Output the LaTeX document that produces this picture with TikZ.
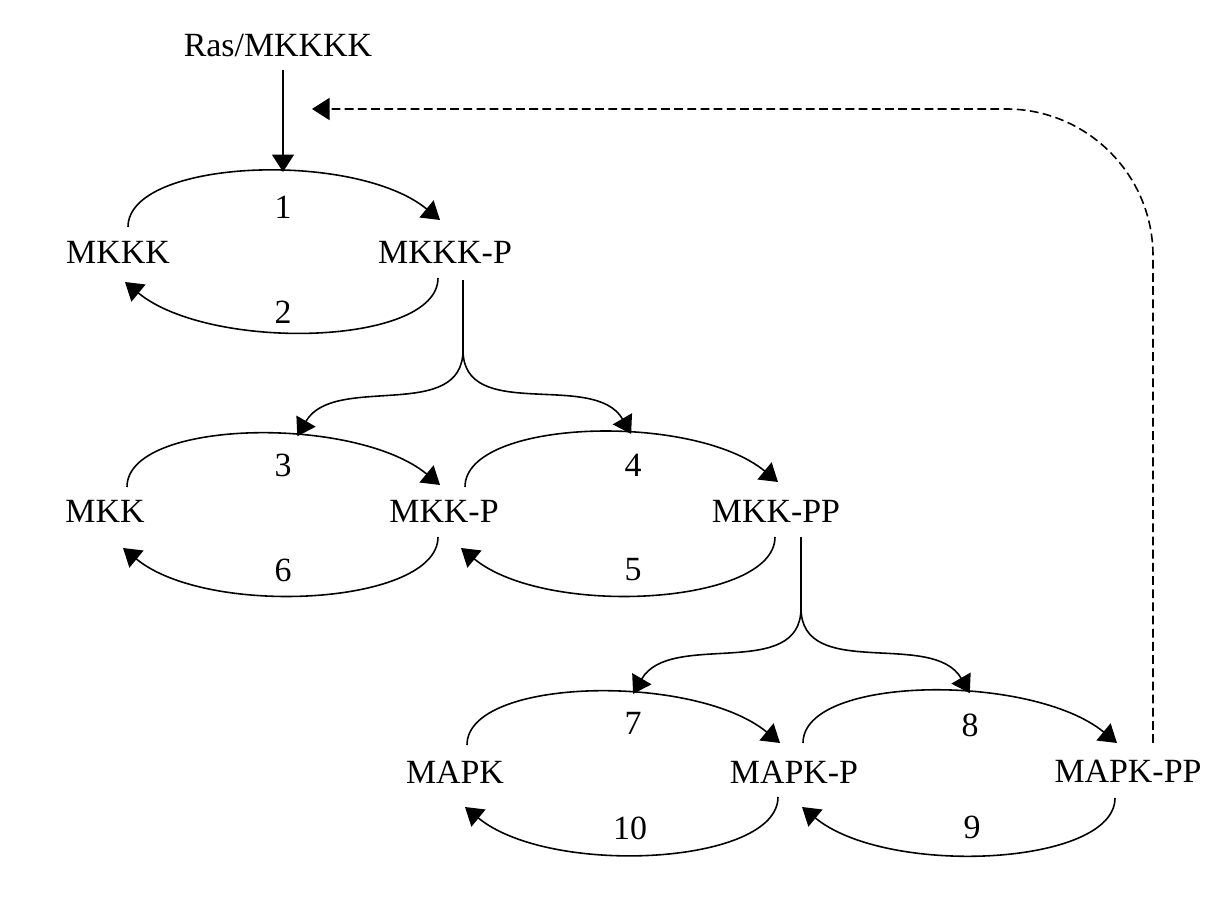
\documentclass[tikz,border=0pt]{standalone}
\usepackage{fontspec}
\setmainfont{Liberation Serif}
\usetikzlibrary{arrows.meta}
\tikzset{
  kin/.style={inner sep=0pt, font=\fontsize{19.3}{23}\selectfont},
  ln/.style={line width=0.9pt},
  rx/.style={ln, -{Triangle[length=0.35cm,width=0.44cm]}},
  fb/.style={rx, dash pattern=on 5pt off 2.5pt, rounded corners=2.94cm}
}
\newcommand{\fwd}[4][.6]{\draw[rx] (#2) .. controls +(0,68) and +(-85,70) .. (#3) coordinate[pos=#1] (#4);}
\newcommand{\bwd}[2]{\draw[rx] (#1) .. controls +(0,-68) and +(85,-70) .. (#2);}

\begin{document}
\begin{tikzpicture}[x=0.02cm, y=0.02cm]
        \useasboundingbox (0,0) rectangle (1224,-901);
        % kinases
        \node[kin] (ras)    at (278,-45)   {Ras/MKKKK};
        \node[kin] (mkkk)   at (118,-252)  {MKKK};
        \node[kin] (mkkkp)  at (445,-252)  {MKKK-P};
        \node[kin] (mkk)    at (105,-511)  {MKK};
        \node[kin] (mkkp)   at (444,-511)  {MKK-P};
        \node[kin] (mkkpp)  at (776,-511)  {MKK-PP};
        \node[kin] (mapk)   at (455,-772)  {MAPK};
        \node[kin] (mapkp)  at (794,-772)  {MAPK-P};
        \node[kin] (mapkpp) at (1128,-771) {MAPK-PP};
        % reaction numbers
        \node[kin] (r1)  at (283,-207) {1};
        \node[kin] (r2)  at (283,-312) {2};
        \node[kin] (r3)  at (283,-465) {3};
        \node[kin] (r4)  at (633,-465) {4};
        \node[kin] (r5)  at (633,-570) {5};
        \node[kin] (r6)  at (283,-570) {6};
        \node[kin] (r7)  at (633,-723) {7};
        \node[kin] (r8)  at (970,-725) {8};
        \node[kin] (r9)  at (972,-827) {9};
        \node[kin] (r10) at (630,-828) {10};
        % level 1
        \fwd[.575]{[shift={(10,25)}]mkkk.center}{[shift={(-5,32)}]mkkkp.center}{top1}
        \bwd{[shift={(-7,-26)}]mkkkp.center}{[shift={(7,-30)}]mkkk.center}
        % level 2
        \fwd[.61]{[shift={(22,24)}]mkk.center}{[shift={(-4,26)}]mkkp.center}{top3}
        \bwd{[shift={(-6,-26)}]mkkp.center}{[shift={(18,-37)}]mkk.center}
        \fwd{[shift={(21,24)}]mkkp.center}{[shift={(2,29)}]mkkpp.center}{top4}
        \bwd{[shift={(-1,-26)}]mkkpp.center}{[shift={(17,-37)}]mkkp.center}
        % level 3
        \fwd{[shift={(12,27)}]mapk.center}{[shift={(-14,29)}]mapkp.center}{top7}
        \bwd{[shift={(-16,-25)}]mapkp.center}{[shift={(10,-35)}]mapk.center}
        \fwd{[shift={(9,29)}]mapkp.center}{[shift={(-11,28)}]mapkpp.center}{top8}
        \bwd{[shift={(-13,-27)}]mapkpp.center}{[shift={(8,-35)}]mapkp.center}
        % activation
        \draw[rx] ([yshift=-0.5cm]top1 |- ras.center) -- (top1);
        \coordinate (fork1) at (463,-350);
        \coordinate (fork2) at (801,-608);
        \draw[ln] ([yshift=-0.56cm]fork1 |- mkkkp.center) -- (fork1);
        \draw[rx] (fork1) to[out=-90,in=60] (top3);
        \draw[rx] (fork1) to[out=-90,in=120] (top4);
        \draw[ln] ([yshift=-0.52cm]fork2 |- mkkpp.center) -- (fork2);
        \draw[rx] (fork2) to[out=-90,in=60] (top7);
        \draw[rx] (fork2) to[out=-90,in=120] (top8);
        % feedback
        \coordinate (ret) at (312,-109);
        \draw[fb] ([shift={(25,28)}]mapkpp.center) |- (ret);
    \end{tikzpicture}
\end{document}
